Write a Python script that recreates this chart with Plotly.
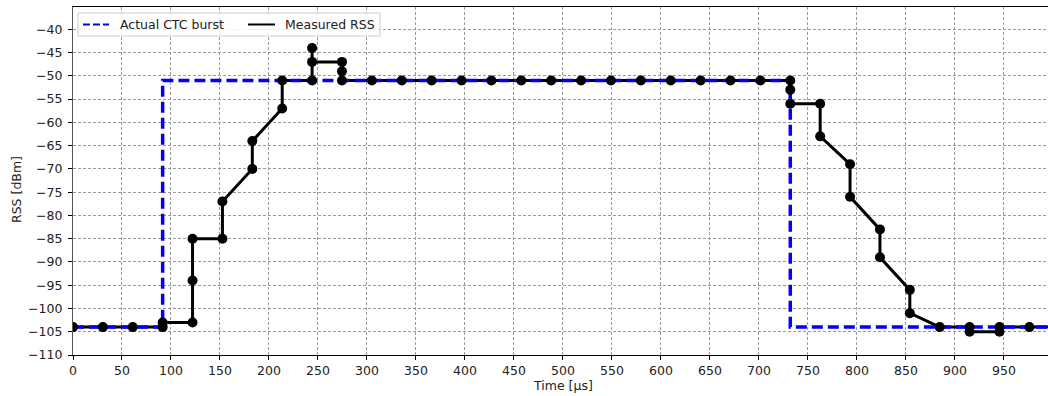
import plotly.graph_objects as go

# ---- data ----
# Measured RSS samples (time in µs, RSS in dBm), in drawing order
rss_time = [0, 30.5, 61, 91.5, 91.5,
            122, 122, 122, 152.5, 152.5, 183, 183, 213.5, 213.5,
            244, 244, 244, 274.5, 274.5, 274.5,
            305, 335.5, 366, 396.5, 427, 457.5, 488, 518.5, 549, 579.5,
            610, 640.5, 671, 701.5, 732, 732, 732,
            762.5, 762.5, 793, 793, 823.5, 823.5, 854, 854,
            884.5, 915, 915, 945.5, 945.5, 976, 1006.5]
rss_value = [-104, -104, -104, -104, -103,
             -103, -94, -85, -85, -77, -70, -64, -57, -51,
             -51, -44, -47, -47, -49, -51,
             -51, -51, -51, -51, -51, -51, -51, -51, -51, -51,
             -51, -51, -51, -51, -51, -53, -56,
             -56, -63, -69, -76, -83, -89, -96, -101,
             -104, -104, -105, -105, -104, -104, -104]

# Actual CTC burst (ideal on/off envelope)
ctc_time = [0, 91.5, 91.5, 732, 732, 1000]
ctc_value = [-104, -104, -51, -51, -104, -104]

x_ticks = list(range(0, 1000, 50))
y_ticks = list(range(-110, -35, 5))
legend_labels = ["Actual CTC burst", "Measured RSS"]

FONT = "DejaVu Sans"
TXT = "#222222"
FS = 12.5

# layout geometry (pixels)
W, H = 1048, 396
ML, MR, MT, MB = 73, 0, 7, 41
PW, PH = W - ML - MR, H - MT - MB


def px(x):
    return (x - ML) / PW


def py(y):
    return 1 - (y - MT) / PH


fig = go.Figure()

# black line (below blue dashed)
fig.add_trace(go.Scatter(x=rss_time, y=rss_value, mode="lines",
                         line=dict(color="black", width=3),
                         showlegend=False, hoverinfo="skip"))
# blue dashed burst
fig.add_trace(go.Scatter(x=ctc_time, y=ctc_value, mode="lines",
                         line=dict(color="#0000ff", width=3.5, dash="11px,5px"),
                         showlegend=False, hoverinfo="skip"))
# markers on top
fig.add_trace(go.Scatter(x=rss_time, y=rss_value, mode="markers",
                         marker=dict(color="black", size=10),
                         showlegend=False, hoverinfo="skip"))

grid = dict(showgrid=True, gridcolor="#999999", gridwidth=1, griddash="3px,2px")

# manual legend (box, line samples, labels)
ly = 24.5
shapes = [
    dict(type="rect", xref="paper", yref="paper", x0=px(78), x1=px(380),
         y0=py(13), y1=py(36), fillcolor="rgba(255,255,255,0.85)",
         line=dict(color="#cccccc", width=1), layer="above"),
    dict(type="line", xref="paper", yref="paper", x0=px(83), x1=px(109),
         y0=py(ly), y1=py(ly), line=dict(color="#0000ff", width=2, dash="7px,3px"),
         layer="above"),
    dict(type="line", xref="paper", yref="paper", x0=px(248), x1=px(275),
         y0=py(ly), y1=py(ly), line=dict(color="black", width=2), layer="above"),
]

annotations = [
    dict(text=legend_labels[0], xref="paper", yref="paper", x=px(118), y=py(ly),
         xanchor="left", yanchor="middle", showarrow=False,
         font=dict(family=FONT, size=FS, color=TXT)),
    dict(text=legend_labels[1], xref="paper", yref="paper", x=px(283), y=py(ly),
         xanchor="left", yanchor="middle", showarrow=False,
         font=dict(family=FONT, size=FS, color=TXT)),
    dict(text="Time [µs]", xref="paper", yref="paper", x=px(563), y=py(385),
         xanchor="center", yanchor="middle", showarrow=False,
         font=dict(family=FONT, size=FS, color=TXT)),
    dict(text="RSS [dBm]", xref="paper", yref="paper", x=px(16), y=py(190),
         xanchor="center", yanchor="middle", textangle=-90, showarrow=False,
         font=dict(family=FONT, size=FS, color=TXT)),
]

fig.update_layout(
    width=W, height=H,
    margin=dict(l=ML, r=MR, t=MT, b=MB),
    paper_bgcolor="white", plot_bgcolor="white",
    showlegend=False,
    font=dict(family=FONT, size=FS, color=TXT),
    xaxis=dict(range=[0, 995], tickvals=x_ticks, ticks="outside", ticklen=4,
               tickcolor="black", showline=True, linecolor="black", linewidth=1.2,
               mirror=True, zeroline=False, tickfont=dict(size=FS), **grid),
    yaxis=dict(range=[-110, -35.2], tickvals=y_ticks, ticks="outside", ticklen=4,
               ticklabelstandoff=3,
               tickcolor="black", showline=True, linecolor="#555555", linewidth=1.2,
               zeroline=False, tickfont=dict(size=FS), **grid),
    shapes=shapes,
    annotations=annotations,
)

fig.write_html("out.html")
